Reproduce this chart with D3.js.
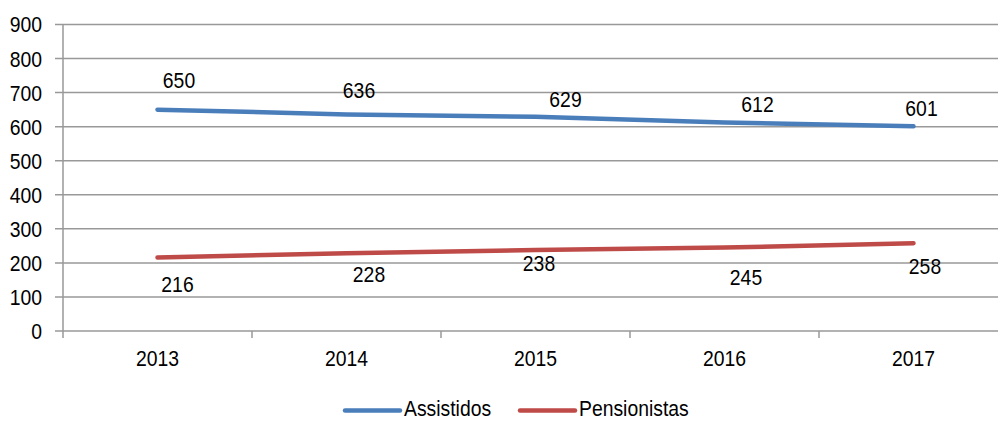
<!DOCTYPE html>
<html>
<head>
<meta charset="utf-8">
<script src="https://cdn.jsdelivr.net/npm/d3@7"></script>
<style>
  html, body { margin: 0; padding: 0; background: #fff; }
  svg text { font-family: "Liberation Sans", Arial, sans-serif; fill: #000; }
</style>
</head>
<body>
<svg id="chart" width="998" height="421"></svg>
<script>
// Chart data
const years = ["2013", "2014", "2015", "2016", "2017"];
const assistidos = [650, 636, 629, 612, 601];
const pensionistas = [216, 228, 238, 245, 258];
const yTicks = [0, 100, 200, 300, 400, 500, 600, 700, 800, 900];
const seriesNames = ["Assistidos", "Pensionistas"];

// Layout: label nudges (dx, dy) relative to each point
const labelNudge = {
  Assistidos: [[21.5, -29.5], [12.5, -24], [30, -18], [33, -19], [8, -18]],
  Pensionistas: [[20, 26.5], [22.5, 20.5], [3.5, 13], [21.5, 29.5], [11.5, 23]]
};
const colors = { Assistidos: "#4a7ebb", Pensionistas: "#be4b48" };
const FONT_SIZE = 22, SQUEEZE = 0.88;

const svg = d3.select("#chart");
const plotLeft = 63, plotRight = 1008, plotTop = 24.5, plotBottom = 331;

const x = d3.scaleBand().domain(years).range([plotLeft, plotRight]);
const y = d3.scaleLinear().domain([0, 900]).range([plotBottom, plotTop]);
const cx = i => x(years[i]) + x.bandwidth() / 2;

// Condensed text: horizontally squeezed around its anchor point
function label(sel, fx, fy, anchor) {
  return sel
    .attr("transform", (d, i) => `translate(${fx(d, i)},${fy(d, i)}) scale(${SQUEEZE},1)`)
    .attr("text-anchor", anchor)
    .attr("dominant-baseline", "central")
    .attr("font-size", FONT_SIZE);
}

// Horizontal gridlines with short tick stubs on the left
svg.append("g").selectAll("line").data(yTicks).join("line")
  .attr("x1", 55).attr("x2", 998)
  .attr("y1", d => y(d)).attr("y2", d => y(d))
  .attr("stroke", "#999").attr("stroke-width", 1.5);

// Y axis line
svg.append("line").attr("x1", plotLeft).attr("x2", plotLeft)
  .attr("y1", plotTop).attr("y2", plotBottom + 7)
  .attr("stroke", "#999").attr("stroke-width", 1.5);

// X category separators
svg.append("g").selectAll("line").data(years.slice(1)).join("line")
  .attr("x1", d => x(d)).attr("x2", d => x(d))
  .attr("y1", plotBottom).attr("y2", plotBottom + 7)
  .attr("stroke", "#999").attr("stroke-width", 1.5);

// Y tick labels
label(svg.append("g").selectAll("text").data(yTicks).join("text").text(d => d),
  () => 42, d => y(d), "end");

// X tick labels
label(svg.append("g").selectAll("text").data(years).join("text").text(d => d),
  (d, i) => cx(i), () => 358, "middle");

const line = d3.line()
  .x((d, i) => cx(i))
  .y(d => y(d));

const series = [
  { name: "Assistidos", values: assistidos },
  { name: "Pensionistas", values: pensionistas }
];

series.forEach(s => {
  svg.append("path").datum(s.values)
    .attr("d", line).attr("fill", "none")
    .attr("stroke", colors[s.name]).attr("stroke-width", 4.5)
    .attr("stroke-linecap", "round").attr("stroke-linejoin", "round");

  label(svg.append("g").selectAll("text").data(s.values).join("text").text(d => d),
    (d, i) => cx(i) + labelNudge[s.name][i][0],
    (d, i) => y(d) + labelNudge[s.name][i][1], "middle");
});

// Legend
const legendItems = [
  { name: seriesNames[0], x: 345 },
  { name: seriesNames[1], x: 520 }
];
const lg = svg.append("g");
legendItems.forEach(it => {
  lg.append("line").attr("x1", it.x).attr("x2", it.x + 55)
    .attr("y1", 410.5).attr("y2", 410.5)
    .attr("stroke", colors[it.name]).attr("stroke-width", 4.5)
    .attr("stroke-linecap", "round");
  label(lg.append("text").datum(it.name).text(it.name),
    () => it.x + 59, () => 408.5, "start");
});
</script>
</body>
</html>
